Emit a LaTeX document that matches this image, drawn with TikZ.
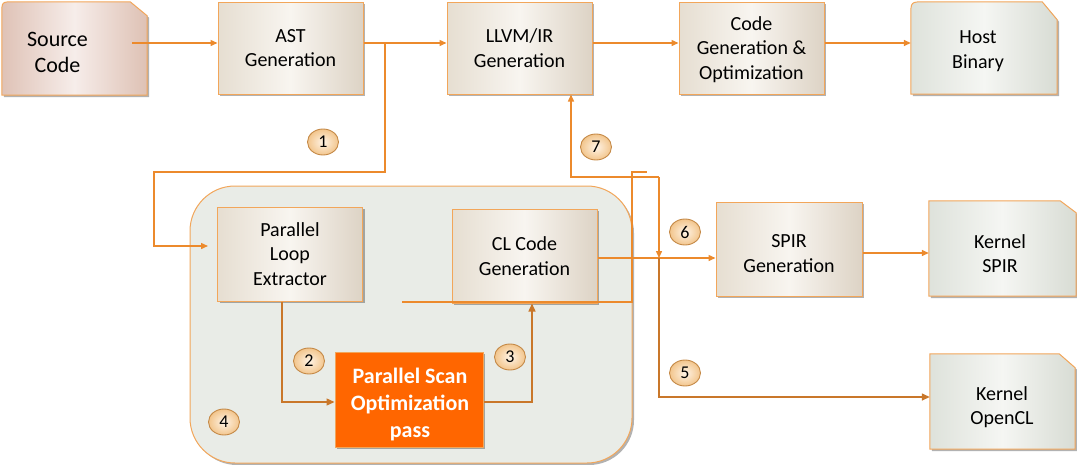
\documentclass[tikz,border=0pt]{standalone}
\usepackage{fontspec}
\setmainfont{Carlito}
\usetikzlibrary{shadows,arrows.meta,calc,shapes.geometric}
\definecolor{bord}{HTML}{F2A65A}
\definecolor{ln}{HTML}{EC8A2C}
\definecolor{lnd}{HTML}{C9772A}
\definecolor{bgL}{HTML}{E6DED1}
\definecolor{bgM}{HTML}{F8F5F0}
\definecolor{bgR}{HTML}{DDD3C5}
\definecolor{srL}{HTML}{DFC2B6}
\definecolor{srM}{HTML}{F6EDEA}
\definecolor{srR}{HTML}{DEC1B4}
\definecolor{grL}{HTML}{DEE2DB}
\definecolor{grM}{HTML}{F5F6F3}
\definecolor{grR}{HTML}{D8DCD4}
\definecolor{cont}{HTML}{E9ECE7}
\definecolor{psf}{HTML}{FF6600}
\definecolor{numB}{HTML}{C58A48}
\definecolor{numI}{HTML}{FFF4E6}
\definecolor{numO}{HTML}{F2C58C}
\tikzset{
  shd/.style={drop shadow={shadow xshift=2pt,shadow yshift=-2pt,fill=black,opacity=0.3}},
  box/.style={draw=bord, line width=1pt, minimum width=145pt, minimum height=93pt,
    align=center, font=\fontsize{20}{24.5}\selectfont, inner sep=0pt,
    left color=bgL, right color=bgR, middle color=bgM, shd},
  shapebox/.style={draw=none, minimum width=145pt, minimum height=93pt, inner sep=0pt},
  txt/.style={align=center, font=\fontsize{20}{24.5}\selectfont, inner sep=0pt},
  conn/.style={draw=ln, line width=1.4pt, -{Triangle[length=7pt,width=6pt]}},
  connd/.style={draw=lnd, line width=1.4pt, -{Triangle[length=8pt,width=7pt]}},
  plain/.style={draw=ln, line width=1.4pt},
  num/.style={ellipse, draw=numB, line width=0.9pt, minimum width=31pt, minimum height=26pt,
    inner sep=0pt, inner color=numI, outer color=numO, font=\fontsize{18}{18}\selectfont},
}
\begin{document}
\begin{tikzpicture}[x=1pt,y=-1pt]
\useasboundingbox (0,0) rectangle (1077,464);

% container
\node[draw=bord, line width=1pt, fill=cont, rounded corners=45pt, minimum width=442pt,
  minimum height=277pt, shd] (contbox) at (411,324.5) {};

% Source Code shape
\node[shapebox, minimum height=93pt] (src) at (74.5,48.5) {};
\path[draw=bord, line width=1pt, left color=srL, right color=srR, middle color=srM, shd]
  (src.south west) -- ($(src.north west)+(0,12)$) .. controls (src.north west) .. ($(src.north west)+(12,0)$)
  -- ($(src.north east)+(-17,0)$) -- ($(src.north east)+(0,14)$) -- (src.south east) -- cycle;
\node[txt, font=\fontsize{22}{26}\selectfont] (srct) at (57.5,52) {Source\\Code};

% top row boxes
\node[box, minimum height=92pt] (ast) at (290.5,48) {AST\\Generation};
\node[box, minimum height=92pt] (llvm) at (519.5,48) {LLVM/IR\\Generation};
\node[box, minimum height=92pt] (cg) at (751.5,48) {};
\node[txt] (cgt) at (751.5,49.5) {Code\\Generation \&\\Optimization};

% Host Binary
\node[shapebox, minimum width=146pt, minimum height=92pt] (host) at (984,48) {};
\path[draw=bord, line width=1pt, left color=grL, right color=grR, middle color=grM, shd]
  (host.south west) -- ($(host.north west)+(0,14)$) .. controls (host.north west) .. ($(host.north west)+(14,0)$)
  -- ($(host.north east)+(-15,0)$) -- ($(host.north east)+(0,18)$) -- (host.south east) -- cycle;
\node[txt] (hostt) at (978,51) {Host\\Binary};

% inner boxes
\node[box, minimum height=94pt] (ple) at (290,254) {Parallel\\Loop\\Extractor};
\node[box, minimum height=94pt] (cl) at (524.5,256) {CL Code\\Generation};
\node[draw=bord, line width=1pt, fill=psf, minimum width=148pt, minimum height=95pt,
  inner sep=0pt, shd] (ps) at (409,399.5) {};
\node[txt, text=white, font=\bfseries\fontsize{22}{27}\selectfont] (pst) at (410,405)
  {Parallel Scan\\Optimization\\pass};

% SPIR generation
\node[box, minimum width=146pt, minimum height=94pt] (spir) at (789,249) {};
\node[txt] (spirt) at (789,253.5) {SPIR\\Generation};

% Kernel SPIR
\node[shapebox, minimum width=147pt, minimum height=95pt] (kspir) at (1002.5,248.5) {};
\path[draw=bord, line width=1pt, left color=grL, right color=grR, middle color=grM, shd]
  (kspir.south west) -- (kspir.north west) -- ($(kspir.north east)+(-16,0)$)
  -- ($(kspir.north east)+(0,12)$) -- (kspir.south east) -- cycle;
\node[txt] (kspirt) at (1000,253.5) {Kernel\\SPIR};

% Kernel OpenCL
\node[shapebox, minimum width=145pt, minimum height=95pt] (kocl) at (1002.5,401.5) {};
\path[draw=bord, line width=1pt, left color=grL, right color=grR, middle color=grM, shd]
  (kocl.south west) -- (kocl.north west) -- ($(kocl.north east)+(-16,0)$)
  -- ($(kocl.north east)+(0,14)$) -- (kocl.south east) -- cycle;
\node[txt] (koclt) at (1002,407) {Kernel\\OpenCL};

% top row connectors
\draw[conn] ($(src.east)+(-15,-5.5)$) -- ($(ast.west)+(0,-5)$);
\draw[conn] ($(ast.east)+(0,-5)$) -- ($(llvm.west)+(0,-5)$);
\draw[conn] ($(llvm.east)+(0,-5)$) -- ($(cg.west)+(0,-5)$);
\draw[conn] ($(cg.east)+(0,-5)$) -- ($(host.west)+(0,-5)$);

% branch 1
\coordinate (b1) at (385,43);
\coordinate (b1e) at ($(ple.west)+(-9,-8)$);
\draw[conn] (b1) -- (385,172) -- (154,172) |- (b1e);

% 2 and 3
\draw[connd] ($(ple.south)+(-8,0)$) |- ($(ps.west)+(0,2.5)$);
\draw[connd] ($(ps.east)+(0,2.5)$) -| ($(cl.south)+(7.5,0)$);

% odd line
\coordinate (o1) at (402,302);
\coordinate (o2) at (647,172);
\draw[plain] (o1) -- (632,302) -- (632,172) -- (o2);

% CL -> SPIR
\draw[conn] ($(cl.east)+(0,2)$) -- ($(spir.west)+(0,9)$);
% SPIR -> Kernel SPIR
\draw[conn] ($(spir.east)+(0,4)$) -- ($(kspir.west)+(0,4.5)$);

% 7 and 5
\coordinate (t7) at (659,177);
\coordinate (j) at (659,258);
\draw[conn] (t7) -- (j);
\draw[conn] (t7) -| ($(llvm.south)+(51.5,0)$);
\draw[connd] (j) |- ($(kocl.west)+(0,-4.5)$);

% number labels
\node[num] (n1) at (323,142) {1};
\node[num] (n7) at (596,147) {7};
\node[num] (n2) at (309,361) {2};
\node[num] (n3) at (510,357) {3};
\node[num] (n4) at (224,422) {4};
\node[num] (n6) at (685,232) {6};
\node[num] (n5) at (685,373) {5};
\end{tikzpicture}
\end{document}
